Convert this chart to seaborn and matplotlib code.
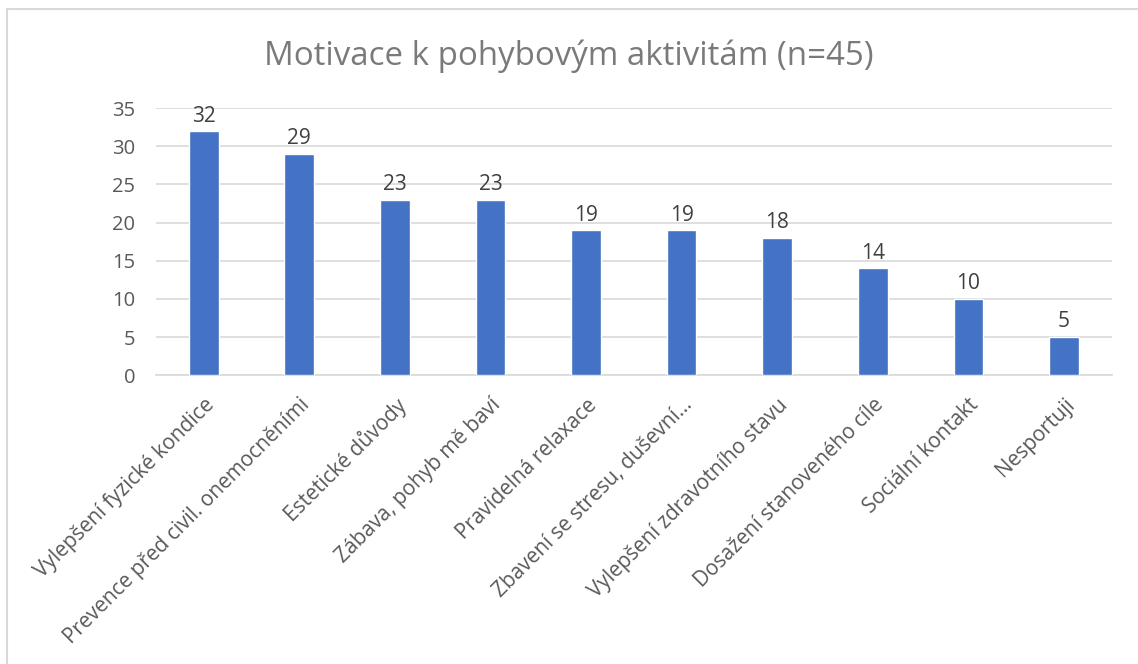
import matplotlib
matplotlib.use("Agg")
import matplotlib.pyplot as plt
import seaborn as sns
import pandas as pd
from matplotlib.patches import Rectangle

categories = [
    "Vylepšení fyzické kondice",
    "Prevence před civil. onemocněními",
    "Estetické důvody",
    "Zábava, pohyb mě baví",
    "Pravidelná relaxace",
    "Zbavení se stresu, duševní…",
    "Vylepšení zdravotního stavu",
    "Dosažení stanoveného cíle",
    "Sociální kontakt",
    "Nesportuji",
]
counts = [32, 29, 23, 23, 19, 19, 18, 14, 10, 5]
y_ticks = [0, 5, 10, 15, 20, 25, 30, 35]
title = "Motivace k pohybovým aktivitám (n=45)"

BAR = "#4472C4"
TXT = "#595959"
GRID = "#D9D9D9"

sns.set_style("white")
plt.rcParams["font.family"] = ["Open Sans", "DejaVu Sans"]

df = pd.DataFrame({"kategorie": categories, "pocet": counts})

fig = plt.figure(figsize=(11.38, 6.64), dpi=100)
ax = fig.add_axes([0.137, 0.435, 0.840, 0.402])

sns.barplot(data=df, x="kategorie", y="pocet", color=BAR, saturation=1,
            width=0.31, ax=ax, zorder=3)

ax.set_ylim(0, 35)
ax.set_yticks(y_ticks)
ax.set_xlim(-0.5, len(categories) - 0.5)
ax.yaxis.grid(True, color=GRID, lw=1.2, zorder=0)
ax.xaxis.grid(False)
for s in ["top", "right", "left"]:
    ax.spines[s].set_visible(False)
ax.spines["bottom"].set_color(GRID)
ax.spines["bottom"].set_linewidth(1.2)
ax.tick_params(axis="y", length=0, labelsize=14.5, colors=TXT, pad=15)
ax.tick_params(axis="x", length=0, labelsize=15, colors=TXT, pad=14)
ax.set_xlabel("")
ax.set_ylabel("")
plt.setp(ax.get_xticklabels(), rotation=45, ha="right",
         rotation_mode="anchor")

for i, v in enumerate(counts):
    ax.text(i, v + 0.6, str(v), ha="center", va="bottom",
            fontsize=15, color="#404040")

fig.text(0.50, 0.915, title, ha="center", va="center", fontsize=23.8,
         color="#7a7a7a")

# frame around the chart area
fig.patches.append(Rectangle((0.006, -0.1), 1.1, 1.087,
                             transform=fig.transFigure, fill=False,
                             edgecolor="#D9D9D9", lw=1.5))

fig.savefig("out.png", dpi=100)
